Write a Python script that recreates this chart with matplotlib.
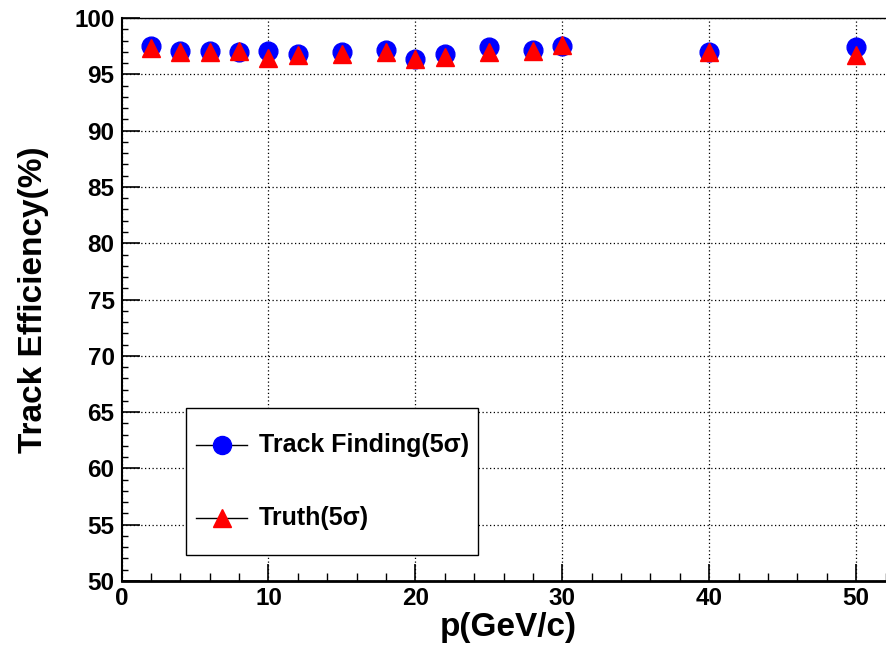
import matplotlib.pyplot as plt
from matplotlib.lines import Line2D
from matplotlib.patches import Rectangle
from matplotlib.ticker import MultipleLocator

# momentum points (GeV/c)
p_values = [2, 4, 6, 8, 10, 12, 15, 18, 20, 22, 25, 28, 30, 40, 50]
# efficiency (%)
eff_finding = [97.5, 97.05, 97.1, 96.95, 97.05, 96.8, 97.0, 97.2, 96.4, 96.8, 97.45, 97.2, 97.5, 97.0, 97.4]
eff_truth = [97.35, 97.0, 96.95, 97.05, 96.5, 96.7, 96.85, 97.0, 96.35, 96.55, 97.0, 97.1, 97.6, 97.0, 96.75]

LABEL_FINDING = "Track Finding(5σ)"
LABEL_TRUTH = "Truth(5σ)"
BLUE = "#0000ff"
RED = "#ff0000"

plt.rcParams.update({
    "font.family": ["Liberation Sans", "DejaVu Sans"],
    "font.weight": "bold",
})

fig = plt.figure(figsize=(8.87, 6.47), dpi=100)
ax = fig.add_axes([0.137, 0.102, 0.873, 0.870])

ax.plot(p_values, eff_finding, linestyle="none", marker="o", markersize=13.5,
        color=BLUE, zorder=3)
ax.plot(p_values, eff_truth, linestyle="none", marker="^", markersize=13,
        color=RED, zorder=4)

ax.set_xlim(0, 52.7)
ax.set_ylim(50, 100)
ax.xaxis.set_major_locator(MultipleLocator(10))
ax.xaxis.set_minor_locator(MultipleLocator(2))
ax.yaxis.set_major_locator(MultipleLocator(5))
ax.yaxis.set_minor_locator(MultipleLocator(1))

ax.tick_params(axis="both", which="both", direction="in", top=False, right=False,
               labelsize=17.5, colors="black")
ax.tick_params(axis="y", which="major", length=13, width=1.2, pad=5)
ax.tick_params(axis="y", which="minor", length=4, width=1.0)
ax.tick_params(axis="x", which="major", length=12, width=1.2, pad=4)
ax.tick_params(axis="x", which="minor", length=6, width=1.0)
for lab in ax.get_xticklabels() + ax.get_yticklabels():
    lab.set_fontweight("bold")

ax.grid(True, which="major", linestyle=(0, (1, 2)), color="black", linewidth=0.9)
ax.set_axisbelow(True)

ax.spines["left"].set_linewidth(1.5)
ax.spines["bottom"].set_linewidth(2.0)
ax.spines["top"].set_linewidth(1.0)
ax.spines["right"].set_visible(False)

ax.set_xlabel("p(GeV/c)", fontsize=24, fontweight="bold", labelpad=2)
ax.set_ylabel("Track Efficiency(%)", fontsize=24, fontweight="bold", labelpad=18)

# ROOT-style legend box, placed in figure coordinates
tf = fig.transFigure
box = Rectangle((0.2097, 0.1422), 0.3292, 0.2272, transform=tf, facecolor="white",
                edgecolor="black", linewidth=1.0, zorder=5)
fig.add_artist(box)
entries = [(LABEL_FINDING, "o", BLUE, 0.3122), (LABEL_TRUTH, "^", RED, 0.1994)]
for label, marker, color, ypos in entries:
    fig.add_artist(Line2D([0.221, 0.2785], [ypos, ypos], transform=tf, color="black",
                          linewidth=1.0, zorder=6))
    fig.add_artist(Line2D([0.2503], [ypos], transform=tf, linestyle="none",
                          marker=marker, markersize=13, color=color, zorder=7))
    fig.text(0.292, ypos, label, fontsize=18, fontweight="bold", va="center",
             ha="left", zorder=7)

fig.savefig("out.png", dpi=100)
